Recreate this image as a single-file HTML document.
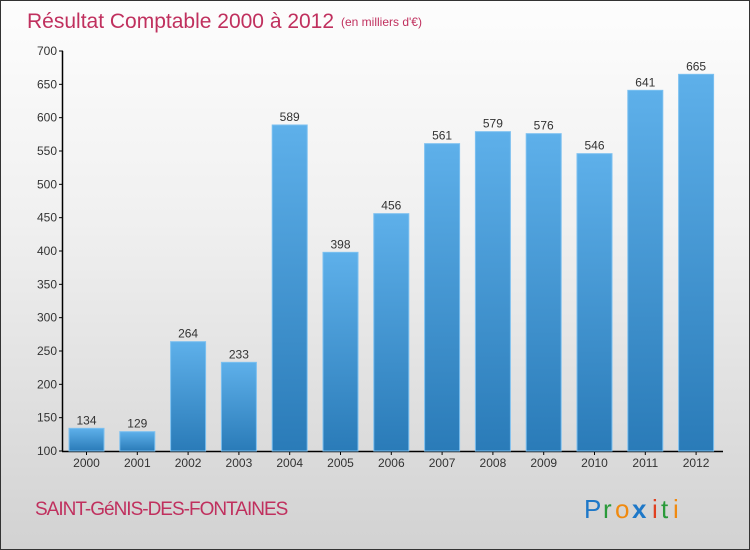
<!DOCTYPE html>
<html><head><meta charset="utf-8"><style>
body{margin:0;}
#c{width:750px;height:550px;position:relative;overflow:hidden;box-sizing:border-box;border:1px solid #333;background:linear-gradient(#fdfdfd 0%,#f0f0f0 40%,#d2d2d2 100%);font-family:"Liberation Sans",sans-serif;}
</style></head><body>
<div id="c">
<svg width="750" height="550" style="position:absolute;left:0;top:0">
<defs><linearGradient id="bg" x1="0" y1="0" x2="0" y2="1"><stop offset="0" stop-color="#5eb0ea"/><stop offset="1" stop-color="#2a7bb8"/></linearGradient></defs>
<text x="26" y="27" font-size="21" fill="#c0305e">Résultat Comptable 2000 à 2012</text>
<text x="340" y="25" font-size="12" fill="#c0305e">(en milliers d'€)</text>
<g id="axes"></g><g id="bars"></g>
<text x="34" y="514" font-size="19" fill="#c0305e" letter-spacing="-1">SAINT-GéNIS-DES-FONTAINES</text>
<g font-size="26">
<text x="583" y="517" fill="#1e78c8">P</text><text x="602" y="517" fill="#2a9a3a">r</text><text x="614" y="517" fill="#f08a10">o</text><text x="631" y="517" fill="#1e78c8" font-weight="bold">x</text><text x="651" y="517" fill="#e04020">i</text><text x="660" y="517" fill="#2a9a3a">t</text><text x="672" y="517" fill="#f08a10">i</text></g>
</svg></div>
<script>
const years=["2000","2001","2002","2003","2004","2005","2006","2007","2008","2009","2010","2011","2012"];
const values=[134,129,264,233,589,398,456,561,579,576,546,641,665];
const ticks=[100,150,200,250,300,350,400,450,500,550,600,650,700];
const ns="http://www.w3.org/2000/svg";
const y=v=>450-(v-100)*400/600;
const x=i=>85.5+i*50.8;
const ax=document.getElementById('axes'),bg=document.getElementById('bars');
function mk(t,a,p){const e=document.createElementNS(ns,t);for(const k in a)e.setAttribute(k,a[k]);p.appendChild(e);return e;}
ticks.forEach(t=>{
 mk('line',{x1:58,x2:62,y1:y(t),y2:y(t),stroke:'#000'},ax);
 const tx=mk('text',{x:56,y:y(t)+4,'font-size':12,fill:'#333','text-anchor':'end'},ax);tx.textContent=t;
 
 
});
mk('line',{x1:61.5,x2:61.5,y1:50,y2:450,stroke:'#000','stroke-width':1.5},ax);
mk('line',{x1:61,x2:722,y1:450.5,y2:450.5,stroke:'#000','stroke-width':1.5},ax);
years.forEach((yr,i)=>{
 const v=values[i];
 const r=mk('rect',{x:x(i)-17.5,y:y(v),width:35,height:450-y(v),fill:'url(#bg)',stroke:'#7cc0f0','stroke-width':1},bg);
 
 
 mk('line',{x1:x(i),x2:x(i),y1:450,y2:454,stroke:'#000'},ax);
 const l=mk('text',{x:x(i),y:466,'font-size':12,fill:'#333','text-anchor':'middle'},ax);l.textContent=yr;
 
 
 const vl=mk('text',{x:x(i),y:y(v)-4,'font-size':12,fill:'#333','text-anchor':'middle'},bg);vl.textContent=v;
 
 
});
</script>
</body></html>
